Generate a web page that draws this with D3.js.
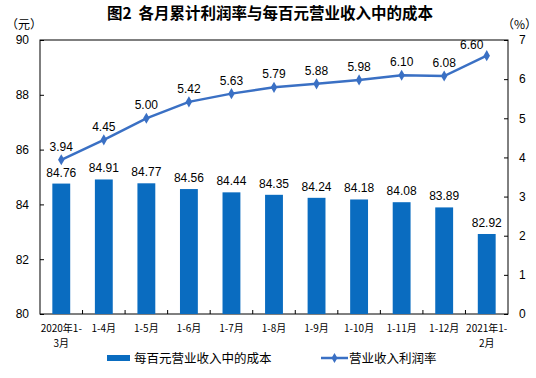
<!DOCTYPE html>
<html>
<head>
<meta charset="utf-8">
<script src="https://cdn.jsdelivr.net/npm/d3@7"></script>
<style>
  body{margin:0;background:#fff;}
  svg{display:block;}
</style>
</head>
<body>
<div id="chart"></div>
<script>
(function(){
  const months=["2020年1-|3月","1-4月","1-5月","1-6月","1-7月","1-8月","1-9月","1-10月","1-11月","1-12月","2021年1-|2月"];
  const cost=[84.76,84.91,84.77,84.56,84.44,84.35,84.24,84.18,84.08,83.89,82.92];
  const margin=[3.94,4.45,5.00,5.42,5.63,5.79,5.88,5.98,6.10,6.08,6.60];
  const leftTicks=[80,82,84,86,88,90];
  const rightTicks=[0,1,2,3,4,5,6,7];

  const W=536,H=378;
  const m={top:40,right:28,bottom:64,left:40};
  const w=W-m.left-m.right, h=H-m.top-m.bottom;
  const barColor="#0a6cc0", lineColor="#3a70c4";
  const num="'Liberation Sans',Arial,sans-serif";
  const cjk="'Noto Sans CJK SC',sans-serif";

  const svg=d3.select("#chart").append("svg").attr("width",W).attr("height",H);

  const title=svg.append("text").attr("x",W/2+2).attr("y",19).attr("text-anchor","middle")
    .attr("font-family",cjk).attr("font-weight",700).attr("font-size",15.5);
  title.append("tspan").text("图2");
  title.append("tspan").attr("dx",7).text("各月累计利润率与每百元营业收入中的成本");
  svg.append("text").attr("x",6).attr("y",29).attr("font-family",cjk).attr("font-size",12).text("（元）");
  svg.append("text").attr("x",502).attr("y",29).attr("font-family",cjk).attr("font-size",12).text("（%）");

  const g=svg.append("g").attr("transform",`translate(${m.left},${m.top})`);
  const x=d3.scaleBand().domain(months).range([0,w]);
  const yL=d3.scaleLinear().domain([80,90]).range([h,0]);
  const yR=d3.scaleLinear().domain([0,7]).range([h,0]);

  g.append("rect").attr("width",w).attr("height",h).attr("fill","none").attr("stroke","#000").attr("stroke-width",1);

  // left axis, ticks point inward
  g.append("g").call(d3.axisLeft(yL).tickValues(leftTicks).tickFormat(d3.format("d")).tickSize(-4).tickPadding(11))
    .call(s=>s.select(".domain").remove())
    .call(s=>s.selectAll("text").attr("font-family",num).attr("font-size",12).attr("fill","#000"));
  g.append("g").attr("transform",`translate(${w},0)`)
    .call(d3.axisRight(yR).tickValues(rightTicks).tickFormat(d3.format("d")).tickSize(-4).tickPadding(11))
    .call(s=>s.select(".domain").remove())
    .call(s=>s.selectAll("text").attr("font-family",num).attr("font-size",12).attr("fill","#000"));

  // category boundary ticks on bottom axis
  g.selectAll(".xt").data(months.slice(1)).join("line")
    .attr("x1",d=>x(d)).attr("x2",d=>x(d)).attr("y1",h).attr("y2",h-4).attr("stroke","#000");

  const xl=g.selectAll(".xl").data(months).join("text")
    .attr("text-anchor","middle").attr("font-family",cjk).attr("font-size",10).attr("fill","#000");
  xl.each(function(d){
    d.split("|").forEach((p,i)=>{
      d3.select(this).append("tspan").attr("x",x(d)+x.bandwidth()/2).attr("y",h+18+i*15).text(p);
    });
  });

  const bw=x.bandwidth()*0.42;
  g.selectAll(".bar").data(cost).join("rect")
    .attr("x",(d,i)=>x(months[i])+x.bandwidth()/2-bw/2)
    .attr("y",d=>yL(d)).attr("width",bw).attr("height",d=>h-yL(d)).attr("fill",barColor);

  g.selectAll(".bl").data(cost).join("text")
    .attr("x",(d,i)=>x(months[i])+x.bandwidth()/2).attr("y",d=>yL(d)-7)
    .attr("text-anchor","middle").attr("font-family",num).attr("font-size",12).attr("fill","#000")
    .text(d=>d.toFixed(2));

  const cx=i=>x(months[i])+x.bandwidth()/2;
  g.append("path").datum(margin)
    .attr("d",d3.line().x((d,i)=>cx(i)).y(d=>yR(d)))
    .attr("fill","none").attr("stroke",lineColor).attr("stroke-width",2.5);
  g.selectAll(".mk").data(margin).join("path")
    .attr("transform",(d,i)=>`translate(${cx(i)},${yR(d)})`)
    .attr("d",d3.symbol(d3.symbolDiamond,36)).attr("fill",lineColor);
  // last label sits left of its point to stay inside the frame
  const last=margin.length-1;
  g.selectAll(".ml").data(margin).join("text")
    .attr("x",(d,i)=>cx(i)-(i===last?15:0)).attr("y",d=>yR(d)-(d>6.5?7:9))
    .attr("text-anchor","middle").attr("font-family",num).attr("font-size",12).attr("fill","#000")
    .text(d=>d.toFixed(2));

  // legend
  const lg=svg.append("g").attr("transform","translate(0,358)");
  lg.append("rect").attr("x",107).attr("y",-3).attr("width",23).attr("height",6).attr("fill",barColor);
  lg.append("text").attr("x",134).attr("y",4.5).attr("font-family",cjk).attr("font-size",12.5).text("每百元营业收入中的成本");
  lg.append("line").attr("x1",321).attr("x2",348).attr("y1",0).attr("y2",0).attr("stroke",lineColor).attr("stroke-width",2.5);
  lg.append("path").attr("transform","translate(334.5,0)").attr("d",d3.symbol(d3.symbolDiamond,30)).attr("fill",lineColor);
  lg.append("text").attr("x",349).attr("y",4.5).attr("font-family",cjk).attr("font-size",12.5).text("营业收入利润率");
})();
</script>
</body>
</html>
